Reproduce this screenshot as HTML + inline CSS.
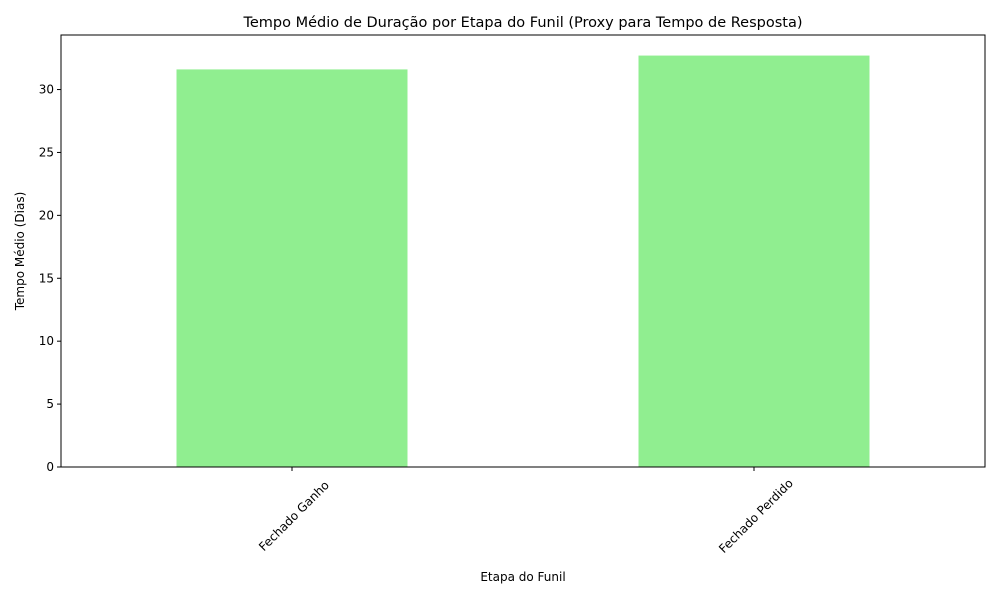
<!DOCTYPE html>
<html><head><meta charset="utf-8"><style>
body{margin:0;background:#fff;font-family:"DejaVu Sans","Liberation Sans",sans-serif;}
svg text{fill:#000;}
</style></head><body>
<svg id="chart" width="1000" height="600" xmlns="http://www.w3.org/2000/svg">
<text x="523" y="27" font-size="14.5" text-anchor="middle">Tempo Médio de Duração por Etapa do Funil (Proxy para Tempo de Resposta)</text>
<g id="bars"></g>
<g id="yticks"></g>
<g id="xticks"></g>
<rect x="61" y="35" width="924" height="432" fill="none" stroke="#000" stroke-width="1"/>
<text transform="translate(24,251) rotate(-90)" font-size="12" text-anchor="middle">Tempo Médio (Dias)</text>
<text x="523" y="581" font-size="12" text-anchor="middle">Etapa do Funil</text>
</svg>
<script>
const categories = ["Fechado Ganho", "Fechado Perdido"];
const values = [31.6, 32.7];
const yTicks = [0, 5, 10, 15, 20, 25, 30];
const NS = "http://www.w3.org/2000/svg";
const L = 61, R = 985, B = 467, yScaleMax = 34.335;
const plotH = 432;
function y(v){ return B - v / yScaleMax * plotH; }
function x(i){ const step = (R - L) / categories.length; return L + step * (i + 0.5); }
const bw = (R - L) / categories.length * 0.5;
const bars = document.getElementById('bars');
values.forEach((v, i) => {
  const r = document.createElementNS(NS, 'rect');
  
  
  r.setAttribute('x', x(i) - bw / 2); r.setAttribute('width', bw);
  r.setAttribute('y', y(v)); r.setAttribute('height', B - y(v));
  r.setAttribute('fill', '#90ee90');
  bars.appendChild(r);
});
const yt = document.getElementById('yticks');
yTicks.forEach(t => {
  const l = document.createElementNS(NS, 'line');
  
  
  l.setAttribute('x1', L - 4); l.setAttribute('x2', L); l.setAttribute('y1', y(t)); l.setAttribute('y2', y(t));
  l.setAttribute('stroke', '#000');
  yt.appendChild(l);
  const tx = document.createElementNS(NS, 'text');
  
  
  tx.setAttribute('x', L - 7); tx.setAttribute('y', y(t) + 4);
  tx.setAttribute('font-size', '12'); tx.setAttribute('text-anchor', 'end');
  tx.textContent = t;
  yt.appendChild(tx);
});
const xt = document.getElementById('xticks');
categories.forEach((c, i) => {
  const l = document.createElementNS(NS, 'line');
  
  
  l.setAttribute('x1', x(i)); l.setAttribute('x2', x(i)); l.setAttribute('y1', B); l.setAttribute('y2', B + 4);
  l.setAttribute('stroke', '#000');
  xt.appendChild(l);
  const tx = document.createElementNS(NS, 'text');
  
  
  tx.setAttribute('font-size', '12'); tx.setAttribute('text-anchor', 'middle');
  tx.setAttribute('transform', 'translate(' + (x(i) + 2) + ',' + (B + 49) + ') rotate(-45)');
  tx.setAttribute('dy', '4');
  tx.textContent = c;
  xt.appendChild(tx);
});
</script>
</body></html>
